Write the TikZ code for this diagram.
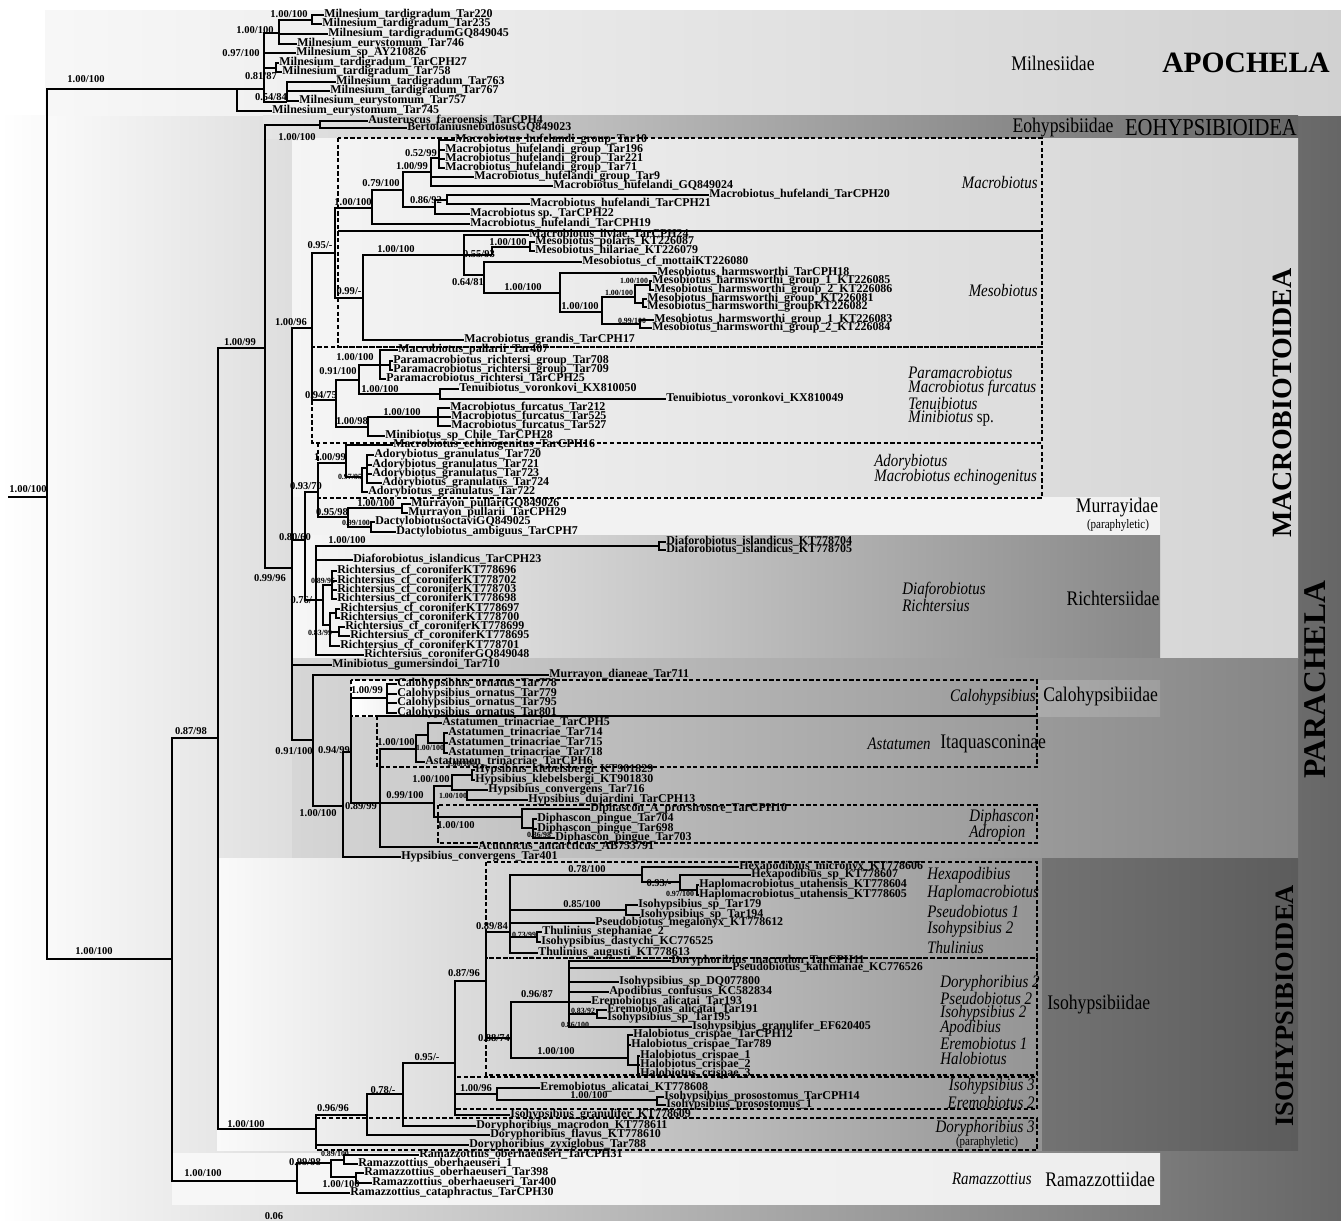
\documentclass[tikz,border=0pt]{standalone}
\usepackage{fontspec}
\setmainfont{Liberation Serif}
\newfontfamily\narrowserif[FakeStretch=0.85]{Liberation Serif}
\tikzset{
  branch/.style={line width=0.8pt},
  leaf/.style={anchor=west, inner sep=0pt, text height=3.6pt, text depth=0.6pt, font=\fontsize{6.8}{7}\selectfont\bfseries},
  support/.style={inner sep=0pt, text height=3.8pt, text depth=0pt, font=\fontsize{6}{6}\selectfont\bfseries},
  smallsupport/.style={inner sep=0pt, text height=2.8pt, text depth=0pt, font=\fontsize{4.5}{5}\selectfont\bfseries},
  cladebox/.style={line width=0.9pt, dash pattern=on 2.4pt off 1.4pt},
  divider/.style={line width=1.1pt},
  family/.style={inner sep=0pt, font=\narrowserif\fontsize{11.8}{12}\selectfont},
  genus/.style={inner sep=0pt, font=\narrowserif\itshape\fontsize{10}{11}\selectfont},
  paraph/.style={inner sep=0pt, font=\narrowserif\fontsize{7.4}{8}\selectfont},
  superfam/.style={inner sep=0pt, font=\fontsize{15.9}{16}\selectfont\bfseries},
}

\begin{document}
\begin{tikzpicture}[x=0.02cm, y=-0.02cm]
    \useasboundingbox (0,0) rectangle (1341,1224);

    % Background panels
    \shade[left color=white, right color=black!60] (0,115) rectangle (1341,1220);
    \shade[left color=black!3, right color=black!18] (45,10) rectangle (1341,115);
    \shade[left color=black!10, right color=black!60] (263,115) rectangle (1298,138);
    \shade[left color=black!4, right color=black!17] (292,138) rectangle (1298,658);
    \fill[black!5] (292,497) rectangle (1160,535);
    \shade[left color=black!3, right color=black!47] (292,535) rectangle (1160,658);
    \shade[left color=black!16, right color=black!48] (292,658) rectangle (1298,858);
    \shade[left color=black!33, right color=black!38] (1037,680) rectangle (1160,716);
    \shade[left color=white, right color=black!23] (351,680) rectangle (520,716);
    \shade[left color=black!2, right color=black!42] (217,858) rectangle (1042,1150);
    \shade[left color=black!55, right color=black!64] (1042,858) rectangle (1298,1150);
    \shade[left color=black!3, right color=black!7] (172,1153) rectangle (1160,1204);

    % Clade boxes
    \draw[cladebox] (338,138) rectangle (1042,347);
    \draw[divider] (338,231) -- (1042,231);
    \draw[cladebox] (312,347) rectangle (1042,443);
    \draw[cladebox] (318,443) rectangle (1042,498);
    \draw[cladebox] (351,680) rectangle (1037,716);
    \draw[divider] (377,716) -- (1037,716);
    \draw[cladebox] (377,716) rectangle (1037,767);
    \draw[cladebox] (438,805) rectangle (1037,843);
    \draw[cladebox] (486,862) rectangle (1037,958);
    \draw[cladebox] (486,958) rectangle (1037,1075);
    \draw[cladebox] (455,1077) rectangle (1037,1109);
    \draw[cladebox] (316,1118) rectangle (1037,1150);

    % Internal nodes
    \foreach \n/\x/\y in {root/47/497, stem/8/497, A/237/89, a1/312/20, a2/279/33, a3/264/89, a4/276/68, a5/287/102,
        P/172/959, Q/218/738, H1/265/348, e1/320/125, H2/292/568,
        M/312/328, M1/335/253, mac5/372/208, mac3/403/190, mac2/431/172, mac1/439/158, mac4/435/207, mac4a/447/200,
        Meso/363/298, Meso1/464/255, Meso2/492/255, Meso2a/530/247, Meso3/484/275, Meso4/560/293, Meso5/602/312,
        Meso6/635/297, Meso6a/650/285, Meso6b/643/303, Meso7/640/324,
        Par/336/400, Par1/359/380, Par1a/380/365, Par1b/390/365, Tenu/440/394, Par2/368/427, Furc/438/417,
        Rn/305/540, AM/318/492, Ado/346/463, Ado2/362/477, Ado3/367/468, Mur/348/517, Mur1/402/508, Mur2/371/527,
        Rich/316/600, DiafK/659/546, RichA/323/600, RichB/332/585, RichC/330/625, RichD/336/613, RichE/339/632,
        Hy/313/740, Hy2/343/806, Hy3/351/752, Calo/387/698, Hy4/380/803, Asta/416/749, Asta1/428/735, Asta2/444/743,
        Hyp/434/803, Hyp1/452/786, Hyp1a/472/775, Hyp1b/467/790, Diph/522/817, Diph2/533/828,
        Iso/316/1129, Iso1/367/1115, Iso2/403/1094, Iso3/455/1063, Iso4/486/981, Iso5/497/1094, Iso5a/657/1100,
        IsoA/510/932, IsoA1/642/875, IsoA2/680/882, IsoA3/697/890, IsoA4/626/910, IsoA5/537/937,
        IsoB/511/1038, IsoC/569/1002, IsoC2/597/1014, Halo/628/1058, Halo2/638/1065,
        Ram/297/1181, Ram1/331/1163, Ram2/344/1160, Ram3/356/1177}
        \coordinate (\n) at (\x,\y);

    % Leaves
    \foreach \n/\x/\y/\t in {
        t220/324/15/Milnesium\_tardigradum\_Tar220, t235/322/24/Milnesium\_tardigradum\_Tar235,
        gq45/328/34/Milnesium\_tardigradumGQ849045, e746/297/44/Milnesium\_eurystomum\_Tar746,
        ay26/296/53/Milnesium\_sp\_AY210826, c27/279/63/Milnesium\_tardigradum\_TarCPH27,
        t758/282/72/Milnesium\_tardigradum\_Tar758, t763/336/82/Milnesium\_tardigradum\_Tar763,
        t767/330/91/Milnesium\_tardigradum\_Tar767, e757/299/101/Milnesium\_eurystomum\_Tar757,
        e745/272/111/Milnesium\_eurystomum\_Tar745,
        aus/368/121/Austeruscus\_faeroensis\_TarCPH4, ber/407/128/BertolaniusnebulosusGQ849023,
        h10/455/140/Macrobiotus\_hufelandi\_group\_Tar10, h196/445/150/Macrobiotus\_hufelandi\_group\_Tar196,
        h221/445/159/Macrobiotus\_hufelandi\_group\_Tar221, h71/445/168/Macrobiotus\_hufelandi\_group\_Tar71,
        h9/474/177/Macrobiotus\_hufelandi\_group\_Tar9, hgq/553/186/Macrobiotus\_hufelandi\_GQ849024,
        h20/709/195/Macrobiotus\_hufelandi\_TarCPH20, h21/530/204/Macrobiotus\_hufelandi\_TarCPH21,
        h22/470/214/Macrobiotus sp.\_TarCPH22, h19/470/224/Macrobiotus\_hufelandi\_TarCPH19,
        liv/529/235/Macrobiotus\_liviae\_TarCPH24, pol/535/242/Mesobiotus\_polaris\_KT226087,
        hil/535/251/Mesobiotus\_hilariae\_KT226079, mot/582/262/Mesobiotus\_cf\_mottaiKT226080,
        m18/657/273/Mesobiotus\_harmsworthi\_TarCPH18, m85/652/281/Mesobiotus\_harmsworthi\_group\_1\_KT226085,
        m86/654/290/Mesobiotus\_harmsworthi\_group\_2\_KT226086, m81/647/299/Mesobiotus\_harmsworthi\_group\_KT226081,
        m82/647/307/Mesobiotus\_harmsworthi\_groupKT226082, m83/654/320/Mesobiotus\_harmsworthi\_group\_1\_KT226083,
        m84/652/328/Mesobiotus\_harmsworthi\_group\_2\_KT226084, gra/464/340/Macrobiotus\_grandis\_TarCPH17,
        pal/398/350/Macrobiotus\_pallarii\_Tar407, p708/393/361/Paramacrobiotus\_richtersi\_group\_Tar708,
        p709/393/370/Paramacrobiotus\_richtersi\_group\_Tar709, p25/386/379/Paramacrobiotus\_richtersi\_TarCPH25,
        k50/459/389/Tenuibiotus\_voronkovi\_KX810050, k49/666/399/Tenuibiotus\_voronkovi\_KX810049,
        f212/450/408/Macrobiotus\_furcatus\_Tar212, f525/451/417/Macrobiotus\_furcatus\_Tar525,
        f527/451/426/Macrobiotus\_furcatus\_Tar527, chi/385/436/Minibiotus\_sp\_Chile\_TarCPH28,
        ech/393/445/Macrobiotus\_echinogenitus\_TarCPH16, g720/374/455/Adorybiotus\_granulatus\_Tar720,
        g721/372/465/Adorybiotus\_granulatus\_Tar721, g723/372/474/Adorybiotus\_granulatus\_Tar723,
        g724/382/483/Adorybiotus\_granulatus\_Tar724, g722/368/492/Adorybiotus\_granulatus\_Tar722,
        mp26/411/504/Murrayon\_pullariGQ849026, mp29/408/513/Murrayon\_pullarii\_TarCPH29,
        doc/375/522/DactylobiotusoctaviGQ849025, dam/396/532/Dactylobiotus\_ambiguus\_TarCPH7,
        d04/666/542/Diaforobiotus\_islandicus\_KT778704, d05/666/550/Diaforobiotus\_islandicus\_KT778705,
        d23/353/560/Diaforobiotus\_islandicus\_TarCPH23, r96/337/571/Richtersius\_cf\_coroniferKT778696,
        r702/337/581/Richtersius\_cf\_coroniferKT778702, r703/337/590/Richtersius\_cf\_coroniferKT778703,
        r98/337/599/Richtersius\_cf\_coroniferKT778698, r97/340/609/Richtersius\_cf\_coroniferKT778697,
        r700/340/618/Richtersius\_cf\_coroniferKT778700, r99/345/627/Richtersius\_cf\_coroniferKT778699,
        r95/350/636/Richtersius\_cf\_coroniferKT778695, r701/340/646/Richtersius\_cf\_coroniferKT778701,
        rgq/364/655/Richtersius\_coroniferGQ849048, gum/332/665/Minibiotus\_gumersindoi\_Tar710,
        mdi/549/675/Murrayon\_dianeae\_Tar711, c778/397/684/Calohypsibius\_ornatus\_Tar778,
        c779/397/694/Calohypsibius\_ornatus\_Tar779, c795/397/703/Calohypsibius\_ornatus\_Tar795,
        c801/397/713/Calohypsibius\_ornatus\_Tar801, at5/442/723/Astatumen\_trinacriae\_TarCPH5,
        a714/448/733/Astatumen\_trinacriae\_Tar714, a715/448/743/Astatumen\_trinacriae\_Tar715,
        a718/448/753/Astatumen\_trinacriae\_Tar718, at6/425/762/Astatumen\_trinacriae\_TarCPH6,
        k29/475/770/Hypsibius\_klebelsbergi\_KT901829, k30/475/780/Hypsibius\_klebelsbergi\_KT901830,
        hc716/488/790/Hypsibius\_convergens\_Tar716, hd13/528/800/Hypsibius\_dujardini\_TarCPH13,
        dp10/590/809/Diphascon\_A\_prorsirostre\_TarCPH10, dp704/537/819/Diphascon\_pingue\_Tar704,
        dp698/537/829/Diphascon\_pingue\_Tar698, dp703/555/838/Diphascon\_pingue\_Tar703,
        acu/478/847/Acutuncus\_antarcticus\_AB753791, hc401/401/857/Hypsibius\_convergens\_Tar401,
        hx06/739/867/Hexapodibius\_micronyx\_KT778606, hx07/751/875/Hexapodibius\_sp\_KT778607,
        hu04/699/885/Haplomacrobiotus\_utahensis\_KT778604, hu05/699/895/Haplomacrobiotus\_utahensis\_KT778605,
        is179/638/905/Isohypsibius\_sp\_Tar179, is194/640/915/Isohypsibius\_sp\_Tar194,
        pme/595/923/Pseudobiotus\_megalonyx\_KT778612, tst/542/932/Thulinius\_stephaniae\_2,
        ida/541/942/Isohypsibius\_dastychi\_KC776525, tau/538/953/Thulinius\_augusti\_KT778613,
        dm11/671/961/Doryphoribius\_macrodon\_TarCPH11, pka/732/968/Pseudobiotus\_kathmanae\_KC776526,
        idq/619/982/Isohypsibius\_sp\_DQ077800, aco/609/992/Apodibius\_confusus\_KC582834,
        ea193/591/1002/Eremobiotus\_alicatai\_Tar193, ea191/607/1010/Eremobiotus\_alicatai\_Tar191,
        is195/607/1018/Isohypsibius\_sp\_Tar195, ige/692/1027/Isohypsibius\_granulifer\_EF620405,
        hc12/633/1035/Halobiotus\_crispae\_TarCPH12, hc789/631/1045/Halobiotus\_crispae\_Tar789,
        hcr1/640/1056/Halobiotus\_crispae\_1, hcr2/640/1065/Halobiotus\_crispae\_2,
        hcr3/640/1074/Halobiotus\_crispae\_3, ea08/540/1088/Eremobiotus\_alicatai\_KT778608,
        ip14/664/1097/Isohypsibius\_prosostomus\_TarCPH14, ip1/666/1105/Isohypsibius\_prosostomus\_1,
        igk/510/1115/Isohypsibius\_granulifer\_KT778609, dmk/476/1126/Doryphoribius\_macrodon\_KT778611,
        dfl/490/1135/Doryphoribius\_flavus\_KT778610, dzy/469/1145/Doryphoribius\_zyxiglobus\_Tar788,
        ro31/419/1155/Ramazzottius\_oberhaeuseri\_TarCPH31, ro1/358/1164/Ramazzottius\_oberhaeuseri\_1,
        ro398/364/1173/Ramazzottius\_oberhaeuseri\_Tar398, ro400/372/1183/Ramazzottius\_oberhaeuseri\_Tar400,
        rc30/350/1193/Ramazzottius\_cataphractus\_TarCPH30}
        \node[leaf] (\n) at (\x,\y) {\t};

    % Branches
    \draw[branch] (stem) -- (root);
    \foreach \p/\c in {root/A, root/P, A/a3, A/e745, a3/a2, a3/ay26, a3/a4, a3/a5, a2/a1, a2/gq45, a2/e746,
        a1/t220, a1/t235, a4/c27, a4/t758, a5/t763, a5/t767, a5/e757,
        P/Q, P/Ram, Q/H1, Q/Iso, H1/e1, H1/H2, e1/aus, e1/ber, H2/M, H2/Rn, H2/gum, H2/Hy,
        M/M1, M/Par, M1/mac5, M1/Meso, mac5/mac3, mac5/h19, mac3/mac2, mac3/mac4,
        mac2/mac1, mac2/h9, mac2/hgq, mac1/h10, mac1/h196, mac1/h221, mac1/h71,
        mac4/mac4a, mac4/h22, mac4a/h20, mac4a/h21,
        Meso/Meso1, Meso/gra, Meso1/liv, Meso1/Meso2, Meso1/Meso3, Meso2/Meso2a, Meso2a/pol, Meso2a/hil,
        Meso3/mot, Meso3/Meso4, Meso4/m18, Meso4/Meso5, Meso5/Meso6, Meso5/Meso7,
        Meso6/Meso6a, Meso6/Meso6b, Meso6a/m85, Meso6a/m86, Meso6b/m81, Meso6b/m82, Meso7/m83, Meso7/m84,
        Par/Par1, Par/Par2, Par1/Par1a, Par1/Tenu, Par1a/pal, Par1a/Par1b, Par1a/p25, Par1b/p708, Par1b/p709,
        Tenu/k50, Tenu/k49, Par2/Furc, Par2/chi, Furc/f212, Furc/f525, Furc/f527,
        Rn/AM, Rn/Rich, AM/Ado, AM/Mur, Ado/ech, Ado/Ado2, Ado2/Ado3, Ado2/g722,
        Ado3/g720, Ado3/g721, Ado3/g723, Ado3/g724, Mur/Mur1, Mur/Mur2, Mur1/mp26, Mur1/mp29, Mur2/doc, Mur2/dam,
        Rich/DiafK, Rich/d23, Rich/RichA, Rich/rgq, DiafK/d04, DiafK/d05, RichA/RichB, RichA/RichC,
        RichB/r96, RichB/r702, RichB/r703, RichB/r98, RichC/RichD, RichC/RichE, RichC/r701,
        RichD/r97, RichD/r700, RichE/r99, RichE/r95,
        Hy/mdi, Hy/Hy2, Hy2/Hy3, Hy2/hc401, Hy3/Calo, Hy3/Hy4, Calo/c778, Calo/c779, Calo/c795, Calo/c801,
        Hy4/Asta, Hy4/Hyp, Hy4/acu, Asta/Asta1, Asta/at6, Asta1/at5, Asta1/Asta2, Asta2/a714, Asta2/a715, Asta2/a718,
        Hyp/Hyp1, Hyp/Diph, Hyp1/Hyp1a, Hyp1/Hyp1b, Hyp1a/k29, Hyp1a/k30, Hyp1b/hc716, Hyp1b/hd13,
        Diph/dp10, Diph/Diph2, Diph2/dp704, Diph2/dp698, Diph2/dp703,
        Iso/Iso1, Iso/dzy, Iso1/Iso2, Iso1/dfl, Iso2/Iso3, Iso2/dmk, Iso3/Iso4, Iso3/Iso5, Iso3/igk,
        Iso5/ea08, Iso5/Iso5a, Iso5a/ip14, Iso5a/ip1, Iso4/IsoA, Iso4/IsoB,
        IsoA/IsoA1, IsoA/IsoA4, IsoA/pme, IsoA/IsoA5, IsoA/tau, IsoA1/hx06, IsoA1/IsoA2,
        IsoA2/hx07, IsoA2/IsoA3, IsoA3/hu04, IsoA3/hu05, IsoA4/is179, IsoA4/is194, IsoA5/tst, IsoA5/ida,
        IsoB/IsoC, IsoB/Halo, IsoC/dm11, IsoC/pka, IsoC/idq, IsoC/aco, IsoC/ea193, IsoC/IsoC2, IsoC/ige,
        IsoC2/ea191, IsoC2/is195, Halo/hc12, Halo/hc789, Halo/Halo2, Halo2/hcr1, Halo2/hcr2, Halo2/hcr3,
        Ram/Ram1, Ram/rc30, Ram1/Ram2, Ram1/Ram3, Ram2/ro31, Ram2/ro1, Ram3/ro398, Ram3/ro400}
        \draw[branch] (\p) |- (\c);

    % Support values
    \foreach \x/\y/\t [count=\i] in {28/489/{1.00/100}, 86/79/{1.00/100}, 289/14/{1.00/100}, 255/30/{1.00/100},
        241/53/{0.97/100}, 261/76/{0.81/87}, 271/97/{0.54/84}, 94/951/{1.00/100}, 191/731/{0.87/98},
        240/342/{1.00/99}, 297/137/{1.00/100}, 270/578/{0.99/96}, 291/322/{1.00/96}, 320/245/{0.95/-},
        353/202/{1.00/100}, 381/183/{0.79/100}, 412/166/{1.00/99}, 421/153/{0.52/99}, 426/200/{0.86/92},
        349/291/{0.99/-}, 396/249/{1.00/100}, 479/254/{0.55/93}, 508/242/{1.00/100}, 468/282/{0.64/81},
        523/287/{1.00/100}, 580/306/{1.00/100}, 321/395/{0.94/75}, 338/371/{0.91/100}, 355/357/{1.00/100},
        380/389/{1.00/100}, 352/421/{1.00/98}, 402/412/{1.00/100}, 295/537/{0.80/60}, 306/486/{0.93/70},
        330/457/{1.00/99}, 332/512/{0.95/98}, 376/503/{1.00/100}, 347/540/{1.00/100}, 303/600/{0.76/-},
        294/751/{0.91/100}, 318/813/{1.00/100}, 334/750/{0.94/99}, 367/690/{1.00/99}, 361/806/{0.89/99},
        396/742/{1.00/100}, 405/795/{0.99/100}, 431/779/{1.00/100}, 456/825/{1.00/100},
        246/1124/{1.00/100}, 333/1108/{0.96/96}, 383/1090/{0.78/-}, 427/1057/{0.95/-}, 464/973/{0.87/96},
        476/1088/{1.00/96}, 589/1095/{1.00/100}, 492/926/{0.89/84}, 587/869/{0.78/100}, 659/883/{0.93/-},
        582/904/{0.85/100}, 494/1038/{0.88/74}, 537/994/{0.96/87}, 556/1051/{1.00/100},
        203/1173/{1.00/100}, 305/1162/{0.99/98}, 341/1184/{1.00/100}, 274/1216/{0.06}}
        \node[support] (bs\i) at (\x,\y) {\t};
    \foreach \x/\y/\t [count=\i] in {619/293/{1.00/100}, 634/281/{1.00/100}, 632/321/{0.99/100},
        350/477/{0.97/95}, 356/523/{0.99/100}, 323/581/{0.89/95}, 320/633/{0.83/99}, 430/748/{1.00/100},
        461/764/{1.00/100}, 453/796/{1.00/100}, 539/835/{0.86/98}, 680/894/{0.97/100}, 524/935/{0.73/99},
        583/1011/{0.83/92}, 575/1025/{0.86/100}, 335/1154/{0.89/100}}
        \node[smallsupport] (bt\i) at (\x,\y) {\t};

    % Apochela and Eohypsibioidea labels
    \node[family] (milnes) at (1053,63) {Milnesiidae};
    \node[superfam, font=\fontsize{16.8}{17}\selectfont\bfseries] (apoch) at (1246,63) {APOCHELA};
    \node[family] (eohyfam) at (1063,128) {Eohypsibiidae};
    \node[inner sep=0pt, font=\narrowserif\fontsize{13.8}{14}\selectfont] (eohysup) at (1211,128) {EOHYPSIBIOIDEA};

    % Macrobiotoidea labels
    \node[genus, anchor=east] (gmacro) at (1038,183) {Macrobiotus};
    \node[genus, anchor=east] (gmeso) at (1038,291) {Mesobiotus};
    \foreach \y/\t [count=\i] in {372/Paramacrobiotus, 388/Macrobiotus furcatus, 403/Tenuibiotus, 418/Minibiotus\/ {\upshape sp.}}
        \node[genus, anchor=west] (gpar\i) at (908,\y) {\t};
    \node[genus, anchor=west] (gado) at (874,462) {Adorybiotus};
    \node[genus, anchor=west] (gech) at (874,477) {Macrobiotus echinogenitus};
    \node[family] (fmur) at (1117,508) {Murrayidae};
    \node[paraph] (pmur) at (1118,525) {(paraphyletic)};
    \node[genus, anchor=west] (gdiaf) at (902,590) {Diaforobiotus};
    \node[genus, anchor=west] (grich) at (902,605) {Richtersius};
    \node[family] (frich) at (1113,598) {Richtersiidae};
    \node[superfam, rotate=90] (macroid) at (1282,403) {MACROBIOTOIDEA};
    \node[superfam, rotate=90, font=\fontsize{18}{18}\selectfont\bfseries] (parach) at (1315,680) {PARACHELA};

    % Hypsibioidea labels
    \node[genus, anchor=east] (gcalo) at (1036,697) {Calohypsibius};
    \node[family, anchor=west] (fcalo) at (1043,697) {Calohypsibiidae};
    \node[genus, anchor=east] (gasta) at (931,744) {Astatumen};
    \node[family, anchor=west] (fitaq) at (940,744) {Itaquasconinae};
    \node[genus, anchor=west] (gdiph) at (969,817) {Diphascon};
    \node[genus, anchor=west] (gadro) at (969,833) {Adropion};

    % Isohypsibioidea labels
    \foreach \y/\t [count=\i] in {875/Hexapodibius, 893/Haplomacrobiotus, 911/Pseudobiotus 1, 929/Isohypsibius 2, 947/Thulinius}
        \node[genus, anchor=west] (gisa\i) at (927,\y) {\t};
    \foreach \y/\t [count=\i] in {983/Doryphoribius 2, 998/Pseudobiotus 2, 1013/Isohypsibius 2, 1028/Apodibius, 1043/Eremobiotus 1, 1058/Halobiotus}
        \node[genus, anchor=west] (gisb\i) at (940,\y) {\t};
    \node[family, anchor=west] (fiso) at (1047,1005) {Isohypsibiidae};
    \node[genus, anchor=east] (giso3) at (1035,1086) {Isohypsibius 3};
    \node[genus, anchor=east] (gere2) at (1035,1102) {Eremobiotus 2};
    \node[genus, anchor=east] (gdor3) at (1035,1128) {Doryphoribius 3};
    \node[paraph] (pdor) at (987,1142) {(paraphyletic)};
    \node[superfam, font=\fontsize{15.1}{15}\selectfont\bfseries, rotate=90] (isoid) at (1285,1006) {ISOHYPSIBIOIDEA};

    % Ramazzottiidae labels
    \node[genus, anchor=east] (gram) at (1032,1179) {Ramazzottius};
    \node[family, anchor=west] (fram) at (1045,1179) {Ramazzottiidae};
\end{tikzpicture}
\end{document}
